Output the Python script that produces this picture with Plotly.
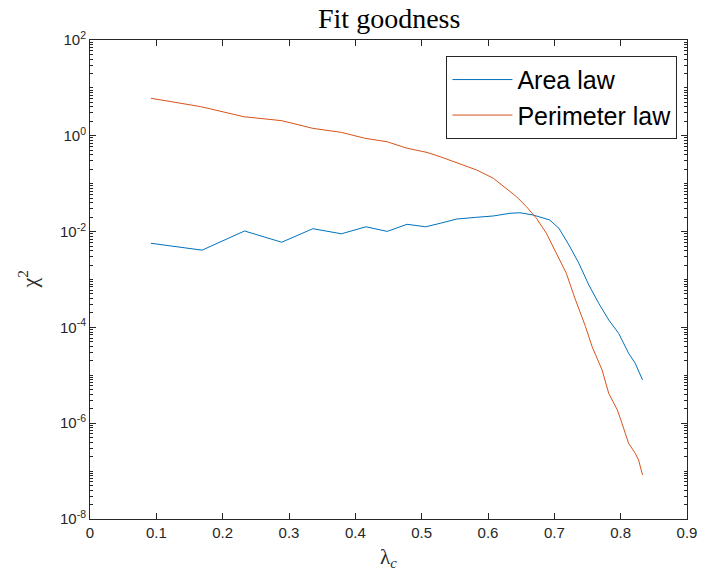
import plotly.graph_objects as go

# ---- data ----
lam_area = [0.092, 0.169, 0.233, 0.289, 0.336, 0.379, 0.416, 0.448, 0.478, 0.506,
            0.528, 0.553, 0.583, 0.608, 0.633, 0.648, 0.668, 0.693, 0.707, 0.722,
            0.737, 0.752, 0.767, 0.782, 0.797, 0.812, 0.822, 0.833]
chi2_area = [0.0057, 0.0041, 0.0103, 0.0060, 0.0115, 0.0090, 0.0126, 0.0101, 0.0142, 0.0126,
             0.0149, 0.0183, 0.0199, 0.0212, 0.0241, 0.0248, 0.0222, 0.0175, 0.0117, 0.00525,
             0.00218, 7.67e-4, 3.18e-4, 1.43e-4, 7.5e-5, 2.88e-5, 1.78e-5, 7.98e-6]

lam_perim = [0.092, 0.167, 0.232, 0.289, 0.336, 0.379, 0.414, 0.448, 0.478, 0.508,
             0.528, 0.558, 0.583, 0.608, 0.628, 0.643, 0.658, 0.668, 0.673, 0.688,
             0.703, 0.718, 0.732, 0.747, 0.757, 0.772, 0.782, 0.795, 0.802, 0.812,
             0.822, 0.827, 0.833]
chi2_perim = [6.07, 4.06, 2.5, 2.07, 1.43, 1.18, 0.89, 0.75, 0.55, 0.45,
              0.366, 0.258, 0.193, 0.130, 0.080, 0.0535, 0.0331, 0.0222, 0.019, 0.00923,
              0.00352, 0.00135, 3.73e-4, 1.04e-4, 3.95e-5, 1.29e-5, 4.2e-6, 1.89e-6, 9.95e-7, 3.8e-7,
              2.35e-7, 1.7e-7, 8.3e-8]

series_names = ["Area law", "Perimeter law"]
x_ticks = [0, 0.1, 0.2, 0.3, 0.4, 0.5, 0.6, 0.7, 0.8, 0.9]
x_ticklabels = ["0", "0.1", "0.2", "0.3", "0.4", "0.5", "0.6", "0.7", "0.8", "0.9"]
y_ticks = [1e-8, 1e-6, 1e-4, 1e-2, 1e0, 1e2]
y_ticklabels = ["10<sup>-8</sup>", "10<sup>-6</sup>", "10<sup>-4</sup>",
                "10<sup>-2</sup>", "10<sup>0</sup>", "10<sup>2</sup>"]

AX = "#262626"
SANS = "Liberation Sans, Arial, sans-serif"
SERIF = "Liberation Serif, DejaVu Serif, serif"
minor_vals = [m * 10.0 ** k for k in range(-8, 2) for m in range(2, 10)] + \
             [10.0 ** k for k in range(-7, 2, 2)]

fig = go.Figure()
fig.add_trace(go.Scatter(x=lam_area, y=chi2_area, mode="lines", name=series_names[0],
                         legendgroup="a", line=dict(color="#0072BD", width=1)))
fig.add_trace(go.Scatter(x=lam_perim, y=chi2_perim, mode="lines", name=series_names[1],
                         legendgroup="b", line=dict(color="#D95319", width=1)))
# invisible copy on a mirrored right axis so the right side gets minor ticks too
fig.add_trace(go.Scatter(x=lam_area, y=chi2_area, mode="lines", yaxis="y2",
                         showlegend=False, hoverinfo="skip", opacity=0,
                         line=dict(width=0)))

yax_common = dict(type="log", range=[-8, 2], ticks="inside", ticklen=6, tickcolor=AX,
                  showgrid=False, zeroline=False, automargin=False,
                  minor=dict(ticks="inside", ticklen=3, tickcolor=AX, tickmode="array",
                             tickvals=minor_vals, showgrid=False))

fig.update_layout(
    width=689, height=561,
    margin=dict(l=82, r=10, t=32, b=50),
    paper_bgcolor="white", plot_bgcolor="white",
    font=dict(family=SANS, size=15, color=AX),
    showlegend=True,
    legend=dict(x=0.984, y=0.967, xanchor="right", yanchor="top",
                bgcolor="white", bordercolor=AX, borderwidth=1,
                font=dict(size=25, color="black", family=SANS),
                tracegroupgap=0, itemwidth=60),
    xaxis=dict(range=[0, 0.9], tickmode="array", tickvals=x_ticks, ticktext=x_ticklabels,
               ticks="inside", ticklen=6, tickcolor=AX, showline=True, linecolor=AX,
               linewidth=1, mirror="ticks", showgrid=False, zeroline=False,
               automargin=False, ticklabeloverflow="allow",
               tickfont=dict(size=15, color=AX)),
    yaxis=dict(tickmode="array", tickvals=y_ticks, ticktext=y_ticklabels,
               showline=True, linecolor=AX, linewidth=1, mirror="ticks",
               tickfont=dict(size=15, color=AX), **yax_common),
    yaxis2=dict(overlaying="y", side="right", showticklabels=False, showline=False,
                tickmode="array", tickvals=y_ticks, **yax_common),
    annotations=[
        dict(text="Fit goodness", x=0.5, y=1, xref="paper", yref="paper",
             xanchor="center", yanchor="middle", yshift=22, showarrow=False,
             font=dict(family=SERIF, size=28, color="black")),
        dict(text="λ<sub><i>c</i></sub>", x=0.5, y=0, xref="paper", yref="paper",
             xanchor="center", yanchor="top", yshift=-24, showarrow=False,
             font=dict(family=SERIF, size=21, color=AX)),
        dict(text="χ<sup>2</sup>", x=0, y=0.5, xref="paper", yref="paper",
             xanchor="center", yanchor="middle", xshift=-63, showarrow=False, textangle=-90,
             font=dict(family=SERIF, size=22, color=AX)),
    ],
)

fig.write_html("out.html")
